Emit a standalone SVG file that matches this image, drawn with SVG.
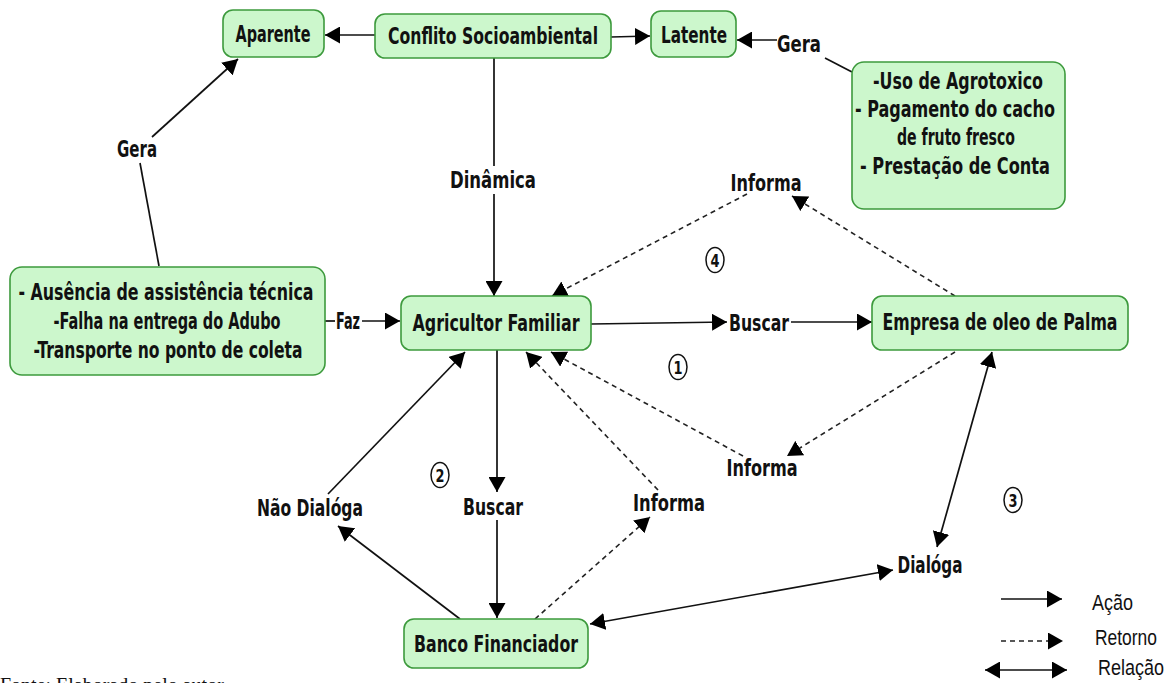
<svg xmlns="http://www.w3.org/2000/svg" width="1168" height="683" viewBox="0 0 1168 683">
  <style>
    .box { fill: #ccf7cc; stroke: #3d9a3d; stroke-width: 1.6; }
    .lbl { font-family: "DejaVu Sans Condensed", "DejaVu Sans", sans-serif; font-stretch: condensed; font-weight: bold; font-size: 23.5px; fill: #111; text-anchor: middle; }
    .num { font-family: "DejaVu Sans Condensed", "DejaVu Sans", sans-serif; font-weight: bold; font-size: 18px; fill: #111; text-anchor: middle; }
    .ring { fill: none; stroke: #111; stroke-width: 1.5; }
    .leg { font-family: "Liberation Sans", Arial, sans-serif; font-size: 22px; fill: #111; }
    .foot { font-family: "Liberation Serif", "Times New Roman", serif; font-size: 20px; fill: #111; }
    .solid { fill: none; stroke: #111; stroke-width: 1.7; }
    .dash { fill: none; stroke: #222; stroke-width: 1.6; stroke-dasharray: 5 4; }
    .act { marker-end: url(#head); }
    .rel { marker-start: url(#head); marker-end: url(#head); }
  </style>
  <defs>
    <marker id="head" viewBox="0 0 15 17" refX="15" refY="8.5" markerWidth="15" markerHeight="17" markerUnits="userSpaceOnUse" orient="auto-start-reverse">
      <path d="M0,0 L15,8.5 L0,17 z" fill="#000"/>
    </marker>
  </defs>

  <rect width="1168" height="683" fill="#fff"/>

  <!-- connectors -->
  <g id="connectors">
    <path class="solid act" d="M375,35 L325,35"/>
    <path class="solid act" d="M611,37 L650,36"/>
    <path class="solid act" d="M777,40 L737,40"/>
    <path class="solid" d="M852,72 L825,58"/>
    <path class="solid" d="M159,266 L140,163"/>
    <path class="solid act" d="M152,137 L238,59"/>
    <path class="solid" d="M494,58 L494,166"/>
    <path class="solid act" d="M494,194 L494,296"/>
    <path class="solid" d="M325,321 L335,321"/>
    <path class="solid act" d="M362,321 L400,321"/>
    <path class="solid act" d="M591,324 L727,322"/>
    <path class="solid act" d="M791,322 L872,322"/>
    <path class="solid act" d="M497,350 L497,492"/>
    <path class="solid act" d="M497,520 L497,618"/>
    <path class="solid act" d="M460,619 L338,526"/>
    <path class="solid act" d="M328,494 L465,352"/>
    <path class="dash act" d="M535,619 L650,517"/>
    <path class="dash act" d="M658,490 L526,352"/>
    <path class="dash act" d="M955,352 L787,456"/>
    <path class="dash act" d="M743,456 L551,352"/>
    <path class="dash act" d="M955,296 L792,196"/>
    <path class="dash act" d="M747,194 L552,296"/>
    <path class="solid rel" d="M992,352 L937,547"/>
    <path class="solid rel" d="M590,624 L893,570"/>
  </g>

  <!-- concept nodes -->
  <g id="aparente">
    <rect class="box" x="223" y="10" width="101" height="47" rx="10"/>
    <text class="lbl" x="273" y="42" textLength="75" lengthAdjust="spacingAndGlyphs">Aparente</text>
  </g>
  <g id="conflito">
    <rect class="box" x="375" y="14" width="236" height="44" rx="10"/>
    <text class="lbl" x="493" y="44" textLength="210" lengthAdjust="spacingAndGlyphs">Conflito Socioambiental</text>
  </g>
  <g id="latente">
    <rect class="box" x="651" y="11" width="85" height="46" rx="10"/>
    <text class="lbl" x="694" y="43" textLength="66" lengthAdjust="spacingAndGlyphs">Latente</text>
  </g>
  <g id="causas-latentes">
    <rect class="box" x="852" y="62" width="213" height="147" rx="12"/>
    <text class="lbl" x="958" y="89" textLength="170" lengthAdjust="spacingAndGlyphs">-Uso de Agrotoxico</text>
    <text class="lbl" x="955" y="117" textLength="200" lengthAdjust="spacingAndGlyphs">- Pagamento do cacho</text>
    <text class="lbl" x="956" y="145" textLength="118" lengthAdjust="spacingAndGlyphs">de fruto fresco</text>
    <text class="lbl" x="955" y="174" textLength="190" lengthAdjust="spacingAndGlyphs">- Prestação de Conta</text>
  </g>
  <g id="causas-aparentes">
    <rect class="box" x="10" y="267" width="315" height="108" rx="12"/>
    <text class="lbl" x="166" y="300" textLength="295" lengthAdjust="spacingAndGlyphs">- Ausência de assistência técnica</text>
    <text class="lbl" x="167" y="329" textLength="227" lengthAdjust="spacingAndGlyphs">-Falha na entrega do Adubo</text>
    <text class="lbl" x="168" y="358" textLength="269" lengthAdjust="spacingAndGlyphs">-Transporte no ponto de coleta</text>
  </g>
  <g id="agricultor">
    <rect class="box" x="401" y="296" width="190" height="54" rx="10"/>
    <text class="lbl" x="496" y="331" textLength="167" lengthAdjust="spacingAndGlyphs">Agricultor Familiar</text>
  </g>
  <g id="empresa">
    <rect class="box" x="872" y="296" width="256" height="54" rx="10"/>
    <text class="lbl" x="1000" y="330" textLength="235" lengthAdjust="spacingAndGlyphs">Empresa de oleo de Palma</text>
  </g>
  <g id="banco">
    <rect class="box" x="404" y="619" width="184" height="49" rx="10"/>
    <text class="lbl" x="496" y="652" textLength="164" lengthAdjust="spacingAndGlyphs">Banco Financiador</text>
  </g>

  <!-- linking phrases -->
  <g id="gera-latente"><text class="lbl" x="799" y="52" textLength="44" lengthAdjust="spacingAndGlyphs">Gera</text></g>
  <g id="gera-aparente"><text class="lbl" x="137" y="157" textLength="40" lengthAdjust="spacingAndGlyphs">Gera</text></g>
  <g id="dinamica"><text class="lbl" x="493" y="188" textLength="86" lengthAdjust="spacingAndGlyphs">Dinâmica</text></g>
  <g id="faz"><text class="lbl" x="348" y="329" textLength="24" lengthAdjust="spacingAndGlyphs">Faz</text></g>
  <g id="buscar-empresa"><text class="lbl" x="759" y="331" textLength="60" lengthAdjust="spacingAndGlyphs">Buscar</text></g>
  <g id="buscar-banco"><text class="lbl" x="493" y="515" textLength="60" lengthAdjust="spacingAndGlyphs">Buscar</text></g>
  <g id="informa-topo"><text class="lbl" x="766" y="191" textLength="71" lengthAdjust="spacingAndGlyphs">Informa</text></g>
  <g id="informa-empresa"><text class="lbl" x="762" y="476" textLength="71" lengthAdjust="spacingAndGlyphs">Informa</text></g>
  <g id="informa-banco"><text class="lbl" x="669" y="511" textLength="72" lengthAdjust="spacingAndGlyphs">Informa</text></g>
  <g id="nao-dialoga"><text class="lbl" x="310" y="516" textLength="106" lengthAdjust="spacingAndGlyphs">Não Dialóga</text></g>
  <g id="dialoga"><text class="lbl" x="930" y="573" textLength="65" lengthAdjust="spacingAndGlyphs">Dialóga</text></g>

  <!-- numbered markers -->
  <g id="n1"><ellipse class="ring" cx="678" cy="367" rx="9" ry="12.5"/><text class="num" x="678" y="373.5" textLength="9" lengthAdjust="spacingAndGlyphs">1</text></g>
  <g id="n2"><ellipse class="ring" cx="440" cy="475" rx="9" ry="12.5"/><text class="num" x="440" y="481.5" textLength="9" lengthAdjust="spacingAndGlyphs">2</text></g>
  <g id="n3"><ellipse class="ring" cx="1013" cy="500" rx="9" ry="12.5"/><text class="num" x="1013" y="506.5" textLength="9" lengthAdjust="spacingAndGlyphs">3</text></g>
  <g id="n4"><ellipse class="ring" cx="715" cy="260" rx="9" ry="12.5"/><text class="num" x="715" y="266.5" textLength="9" lengthAdjust="spacingAndGlyphs">4</text></g>

  <!-- legend -->
  <g id="legenda">
    <path class="solid act" d="M1001,599 L1062,599"/>
    <text class="leg" x="1092" y="610" textLength="41" lengthAdjust="spacingAndGlyphs">Ação</text>
    <path class="dash act" d="M1001,641 L1063,641"/>
    <text class="leg" x="1095" y="645" textLength="62" lengthAdjust="spacingAndGlyphs">Retorno</text>
    <path class="solid rel" d="M985,670 L1067,670"/>
    <text class="leg" x="1098" y="675" textLength="66" lengthAdjust="spacingAndGlyphs">Relação</text>
  </g>

  <text class="foot" x="0" y="692">Fonte: Elaborado pelo autor</text>
</svg>
